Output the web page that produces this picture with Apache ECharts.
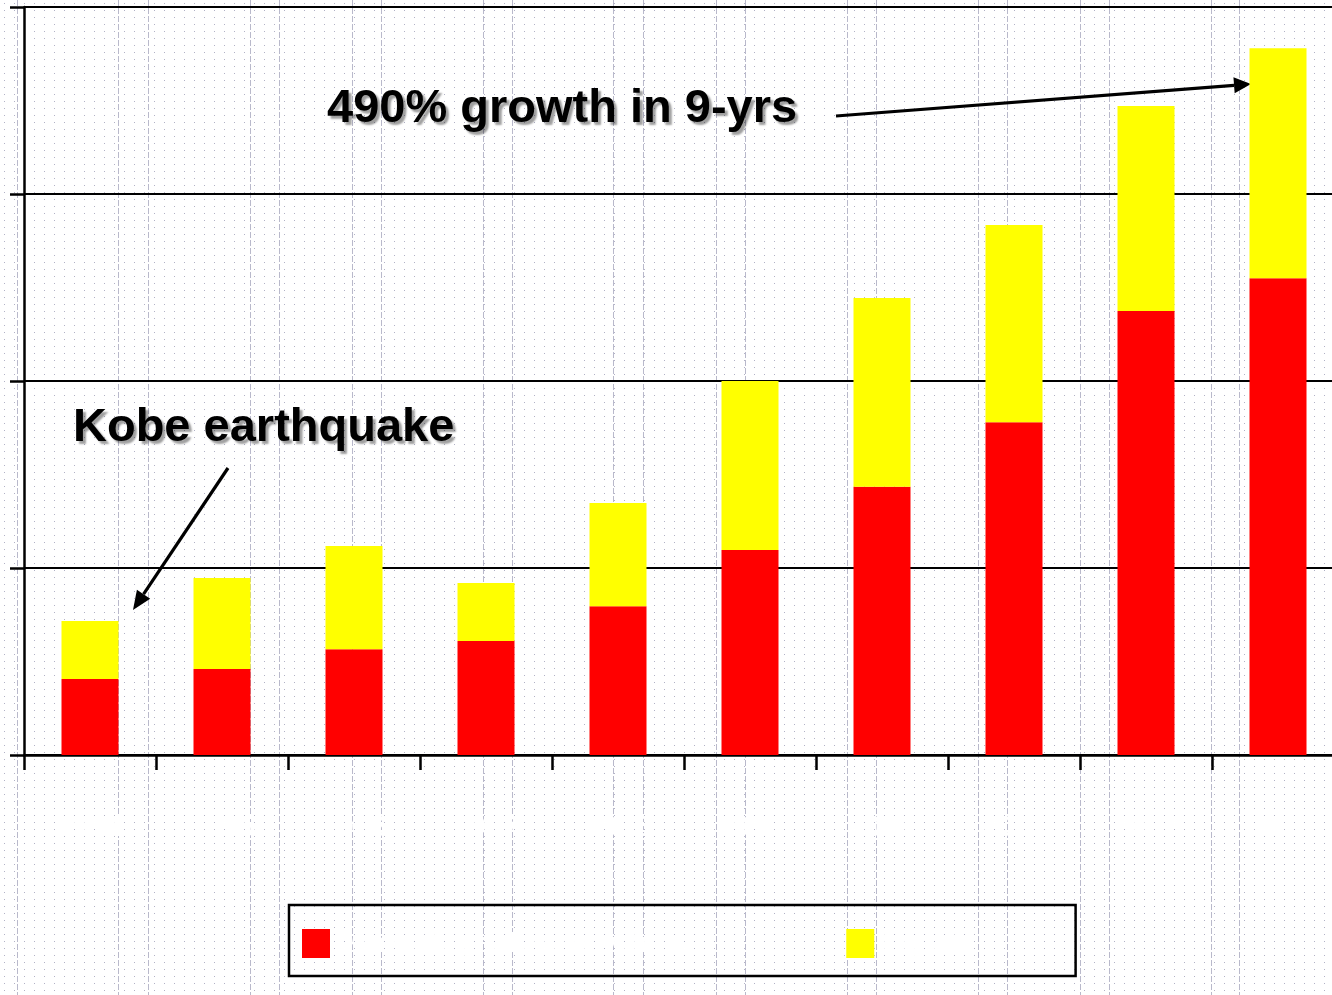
<!DOCTYPE html>
<html>
<head>
<meta charset="utf-8">
<script src="https://cdn.jsdelivr.net/npm/echarts@6/dist/echarts.min.js"></script>
<style>
  html, body { margin: 0; padding: 0; }
  body {
    width: 1332px; height: 995px; position: relative; overflow: hidden;
    background-color: #ffffff;
    background-image: url("data:image/svg+xml;utf8,<svg xmlns='http://www.w3.org/2000/svg' width='10' height='7'><rect x='4' y='3' width='1' height='1' fill='%23b2b2c6'/></svg>");
  }
  .vline {
    position: absolute; top: 0; width: 1px; height: 995px;
    background-image: repeating-linear-gradient(to bottom, #b9b9cb 0 6px, rgba(0,0,0,0) 6px 8px);
  }
  /* the plot runs slightly past the right edge of the page */
  #chart { position: absolute; left: 0; top: 0; width: 1344px; height: 995px; }
</style>
</head>
<body>
<div id="chart"></div>
<script>
// Fiscal years and the two stacked components
const years = ['1994', '1995', '1996', '1997', '1998', '1999', '2000', '2001', '2002', '2003'];
const seriesNames = ['Domestic production volume', 'Imports'];
const domestic = [203, 230, 283, 305, 398, 548, 717, 890, 1187, 1275];
const imports = [155, 243, 276, 155, 276, 452, 505, 527, 548, 615];
const yTicks = { min: 0, max: 2000, interval: 500 };

// Faint paper-ruling lines behind the chart
const rulingX = [17, 118, 148, 250, 279, 352, 381, 483, 512, 613, 643, 716, 745, 847, 876, 978, 1007, 1080, 1109, 1211, 1239];
rulingX.forEach(function (x) {
  const d = document.createElement('div');
  d.className = 'vline';
  d.style.left = x + 'px';
  document.body.insertBefore(d, document.getElementById('chart'));
});

const FONT = '"Liberation Sans", Arial, sans-serif';

function arrow(x1, y1, x2, y2, headLen, headHalf) {
  const dx = x2 - x1, dy = y2 - y1;
  const len = Math.sqrt(dx * dx + dy * dy);
  const ux = dx / len, uy = dy / len;
  const bx = x2 - ux * headLen, by = y2 - uy * headLen;
  const px = -uy, py = ux;
  return [
    { type: 'line', silent: true, shape: { x1: x1, y1: y1, x2: bx, y2: by },
      style: { stroke: '#000', lineWidth: 3.2 } },
    { type: 'polygon', silent: true,
      shape: { points: [[x2, y2], [bx + px * headHalf, by + py * headHalf], [bx - px * headHalf, by - py * headHalf]] },
      style: { fill: '#000' } }
  ];
}

function callout(text, x, y) {
  return {
    type: 'text', silent: true, x: x, y: y,
    style: {
      text: text, font: 'bold 47px ' + FONT, fill: '#000',
      verticalAlign: 'middle', align: 'left',
      textShadowColor: 'rgba(0,0,0,0.38)', textShadowOffsetX: 3, textShadowOffsetY: 3, textShadowBlur: 2
    }
  };
}

const chart = echarts.init(document.getElementById('chart'), null, { renderer: 'canvas' });

const option = {
  backgroundColor: 'transparent',
  animation: false,
  grid: { left: 24, top: 7, right: 0, bottom: 240, containLabel: false },
  legend: {
    left: 289, top: 905,
    orient: 'horizontal',
    icon: 'rect',
    itemWidth: 28, itemHeight: 29,
    itemGap: 153,
    padding: [24, 101, 18, 13],
    borderColor: '#000', borderWidth: 2.5,
    selectedMode: false,
    data: seriesNames,
    textStyle: { color: '#ffffff', fontFamily: FONT, fontWeight: 'bold', fontSize: 26 }
  },
  xAxis: {
    type: 'category',
    data: years,
    boundaryGap: true,
    axisLine: { show: true, lineStyle: { color: '#000', width: 2.5 } },
    axisTick: { show: true, alignWithLabel: false, length: 15, lineStyle: { color: '#000', width: 2.5 } },
    axisLabel: { show: true, color: '#ffffff', fontFamily: FONT, fontWeight: 'bold', fontSize: 30, margin: 58 },
    splitLine: { show: false }
  },
  yAxis: {
    type: 'value',
    min: yTicks.min, max: yTicks.max, interval: yTicks.interval,
    axisLine: { show: true, lineStyle: { color: '#000', width: 2.5 } },
    axisTick: { show: true, length: 14, lineStyle: { color: '#000', width: 2.5 } },
    axisLabel: { show: false },
    splitLine: { show: true, lineStyle: { color: '#000', width: 2 } }
  },
  series: [
    {
      name: seriesNames[0], type: 'bar', stack: 'total', data: domestic,
      barWidth: 57, itemStyle: { color: '#ff0000' }, emphasis: { disabled: true }
    },
    {
      name: seriesNames[1], type: 'bar', stack: 'total', data: imports,
      barWidth: 57, itemStyle: { color: '#ffff00' }, emphasis: { disabled: true }
    }
  ],
  graphic: [
    callout('490% growth in 9-yrs', 327, 109),
    callout('Kobe earthquake', 73, 428)
  ]
    .concat(arrow(836, 116, 1251, 84, 17, 8))
    .concat(arrow(228, 468, 133, 610, 19, 8))
};

chart.setOption(option);
</script>
</body>
</html>
